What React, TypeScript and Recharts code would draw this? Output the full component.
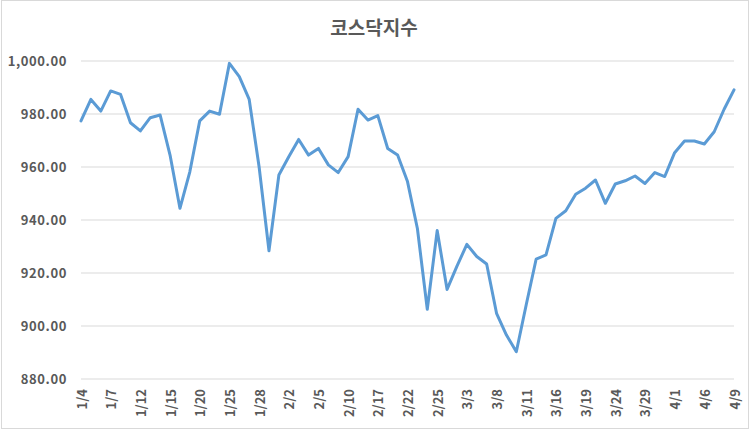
import React from "react";
import { LineChart, Line, XAxis, YAxis, CartesianGrid } from "recharts";

const dates: string[] = [
  "1/4", "1/5", "1/6", "1/7", "1/8", "1/11", "1/12", "1/13", "1/14", "1/15",
  "1/18", "1/19", "1/20", "1/21", "1/22", "1/25", "1/26", "1/27", "1/28", "1/29",
  "2/1", "2/2", "2/3", "2/4", "2/5", "2/8", "2/9", "2/10", "2/15", "2/16",
  "2/17", "2/18", "2/19", "2/22", "2/23", "2/24", "2/25", "2/26", "3/2", "3/3",
  "3/4", "3/5", "3/8", "3/9", "3/10", "3/11", "3/12", "3/15", "3/16", "3/17",
  "3/18", "3/19", "3/22", "3/23", "3/24", "3/25", "3/26", "3/29", "3/30", "3/31",
  "4/1", "4/2", "4/5", "4/6", "4/7", "4/8", "4/9",
];

const kosdaq: number[] = [
  977.4, 985.5, 981.1, 988.7, 987.4, 976.7, 973.6, 978.6, 979.6, 964.5,
  944.4, 958.2, 977.4, 981.1, 979.9, 999.1, 994.1, 985.5, 960.1, 928.4,
  957.0, 963.9, 970.4, 964.5, 967.0, 960.8, 957.9, 963.9, 981.8, 977.7,
  979.4, 967.0, 964.5, 954.5, 936.8, 906.3, 936.0, 913.8, 922.6, 930.8,
  926.2, 923.4, 904.8, 896.6, 890.3, 908.0, 925.2, 926.8, 940.6, 943.5,
  949.7, 952.0, 955.1, 946.3, 953.6, 954.8, 956.6, 953.8, 957.9, 956.4,
  965.4, 969.8, 969.8, 968.7, 973.3, 981.8, 989.1,
];

const yTicks: number[] = [880, 900, 920, 940, 960, 980, 1000];

const title = "코스닥지수";

const data = dates.map((d, i) => ({ date: d, value: kosdaq[i] }));

const FONT = "'Noto Sans CJK KR', 'DejaVu Sans', sans-serif";
const TEXT = "#595959";

const XTick = (props: any) => {
  const { x, y, payload } = props;
  const ty = y + 10;
  return (
    <text
      x={x}
      y={ty}
      transform={`rotate(-90, ${x}, ${ty})`}
      textAnchor="end"
      dominantBaseline="central"
      fill={TEXT}
      fontFamily={FONT}
      fontSize={13}
      fontWeight={700}
    >
      {payload.value}
    </text>
  );
};

const fmt = (v: number) =>
  v.toLocaleString("en-US", { minimumFractionDigits: 2, maximumFractionDigits: 2 });

export default function App() {
  return (
    <div style={{ position: "absolute", left: 0, top: 0, width: 752, height: 430, background: "#fff" }}>
      <div
        style={{
          position: "absolute",
          left: 1,
          top: 0,
          width: 748,
          height: 429,
          border: "1px solid #d9d9d9",
          boxSizing: "border-box",
        }}
      />
      <div
        style={{
          position: "absolute",
          left: 0,
          top: 13,
          width: 748,
          textAlign: "center",
          fontFamily: FONT,
          fontSize: 19,
          fontWeight: 700,
          color: TEXT,
          lineHeight: "28px",
        }}
      >
        {title}
      </div>
      <div style={{ position: "absolute", left: 0, top: 0 }}>
        <LineChart
          width={752}
          height={430}
          data={data}
          margin={{ top: 61, right: 18, bottom: 0, left: 0 }}
        >
          <CartesianGrid vertical={false} stroke="#d9d9d9" strokeWidth={1} />
          <XAxis
            dataKey="date"
            interval={2}
            height={51}
            axisLine={false}
            tickLine={false}
            tickSize={0}
            tickMargin={0}
            tick={<XTick />}
          />
          <YAxis
            domain={[880, 1000]}
            ticks={yTicks}
            width={81}
            axisLine={false}
            tickLine={false}
            tickSize={0}
            tickMargin={14}
            tickFormatter={fmt}
            tick={{ fill: TEXT, fontFamily: FONT, fontSize: 13, fontWeight: 700, letterSpacing: 0.6 }}
            allowDataOverflow
          />
          <Line
            type="linear"
            dataKey="value"
            stroke="#5b9bd5"
            strokeWidth={3}
            dot={false}
            isAnimationActive={false}
            strokeLinejoin="round"
            strokeLinecap="round"
          />
        </LineChart>
      </div>
    </div>
  );
}
